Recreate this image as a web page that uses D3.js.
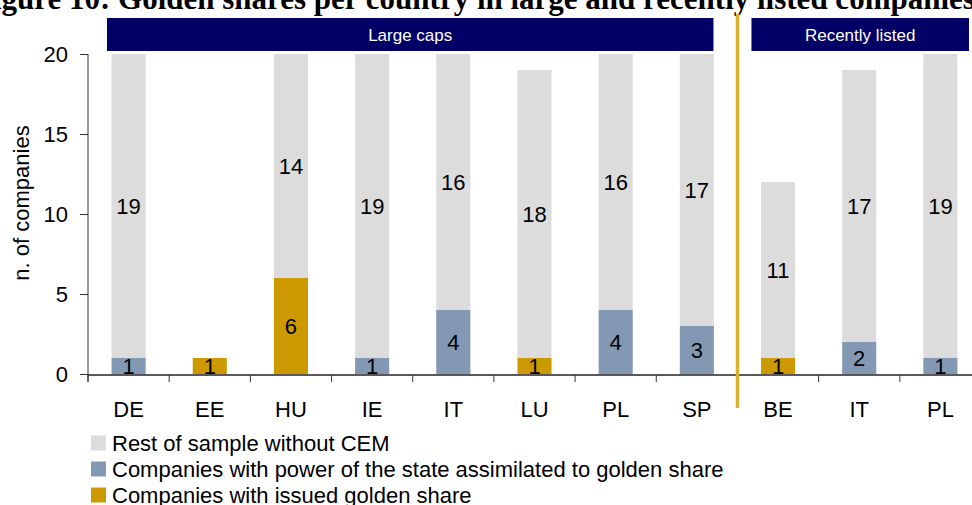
<!DOCTYPE html>
<html>
<head>
<meta charset="utf-8">
<script src="https://cdn.jsdelivr.net/npm/d3@7"></script>
<style>
  body { margin: 0; background: #fff; }
  svg { display: block; font-family: "Liberation Sans", Arial, sans-serif; }
</style>
</head>
<body>
<div id="chart"></div>
<script>
// data
const countries = ["DE", "EE", "HU", "IE", "IT", "LU", "PL", "SP", "BE", "IT", "PL"];
const groupOf = ["Large caps", "Large caps", "Large caps", "Large caps", "Large caps", "Large caps", "Large caps", "Large caps",
                 "Recently listed", "Recently listed", "Recently listed"];
const golden = [0, 1, 6, 0, 0, 1, 0, 0, 1, 0, 0];
const statePower = [1, 0, 0, 1, 4, 0, 4, 3, 0, 2, 1];
const rest = [19, 0, 14, 19, 16, 18, 16, 17, 11, 17, 19];
const yTicks = [0, 5, 10, 15, 20];
const seriesNames = ["Companies with issued golden share",
                     "Companies with power of the state assimilated to golden share",
                     "Rest of sample without CEM"];
const groups = ["Large caps", "Recently listed"];
const titleText = "Figure 10: Golden shares per country in large and recently listed companies";

const colors = ["#cc9900", "#8399b3", "#dcdcdc"];

var W = 972, H = 505;
var svg = d3.select("#chart").append("svg")
    .attr("width", W)
    .attr("height", H);

// cut-off title at the very top
svg.append("text")
    .attr("x", -26)
    .attr("y", 9)
    .style("font-family", "'Liberation Serif', 'Times New Roman', serif")
    .style("font-weight", "bold")
    .style("font-size", "31px")
    .text(titleText);

var x = d3.scaleBand()
    .domain(d3.range(countries.length))
    .range([88, 981])
    .paddingInner(0.58)
    .paddingOuter(0.29);

var y = d3.scaleLinear()
    .domain([0, 20])
    .range([374, 54]);

var step = x.step();
var gap = step * x.paddingInner();
function leftEdge(i) { return x(i) - gap / 2; }

// stacked data
var rows = countries.map(function (c, i) {
    return { i: i, golden: golden[i], state: statePower[i], rest: rest[i] };
});
var keys = ["golden", "state", "rest"];
var stacked = d3.stack().keys(keys)(rows);

var layer = svg.selectAll("g.layer")
    .data(stacked)
    .enter().append("g")
    .attr("class", "layer")
    .attr("fill", function (d, k) { return colors[k]; });

layer.selectAll("rect")
    .data(function (d) { return d; })
    .enter().append("rect")
    .attr("x", function (d) { return x(d.data.i); })
    .attr("width", x.bandwidth())
    .attr("y", function (d) { return y(d[1]); })
    .attr("height", function (d) { return y(d[0]) - y(d[1]); });

// value labels
stacked.forEach(function (s) {
    svg.append("g").selectAll("text")
        .data(s.filter(function (d) { return d[1] - d[0] > 0; }))
        .enter().append("text")
        .attr("x", function (d) { return x(d.data.i) + x.bandwidth() / 2; })
        .attr("y", function (d) { return (y(d[0]) + y(d[1])) / 2; })
        .attr("dy", "0.36em")
        .attr("text-anchor", "middle")
        .style("font-size", "22px")
        .attr("fill", "#000")
        .text(function (d) { return d[1] - d[0]; });
});

// y axis
var yAxis = svg.append("g")
    .attr("transform", "translate(88,0)")
    .call(d3.axisLeft(y).tickValues(yTicks).tickSize(8).tickPadding(12));
yAxis.select(".domain").remove();
yAxis.selectAll("line").attr("stroke", "#333");
yAxis.selectAll("text").style("font-size", "22px").style("font-family", "'Liberation Sans', Arial, sans-serif");
svg.append("line")
    .attr("x1", 88).attr("x2", 88)
    .attr("y1", y(20)).attr("y2", 382)
    .attr("stroke", "#333");

svg.append("text")
    .attr("transform", "translate(29," + 203 + ") rotate(-90)")
    .attr("text-anchor", "middle")
    .style("font-size", "22px")
    .text("n. of companies");

// x axis
var xAxis = svg.append("g")
    .attr("transform", "translate(0,375)")
    .call(d3.axisBottom(x).tickSize(0).tickPadding(26).tickFormat(function (i) { return countries[i]; }));
xAxis.select(".domain").remove();
xAxis.selectAll("text").style("font-size", "22px").style("font-family", "'Liberation Sans', Arial, sans-serif");

svg.append("line")
    .attr("x1", 88).attr("x2", W)
    .attr("y1", 375).attr("y2", 375)
    .attr("stroke", "#222")
    .attr("stroke-width", 1.5);

svg.append("g").selectAll("line")
    .data(d3.range(countries.length))
    .enter().append("line")
    .attr("x1", function (i) { return leftEdge(i); })
    .attr("x2", function (i) { return leftEdge(i); })
    .attr("y1", 375).attr("y2", 382)
    .attr("stroke", "#333");

// group banners
var bannerPad = { "Large caps": [19, 24], "Recently listed": [14, 12] };
groups.forEach(function (g) {
    var idx = d3.range(countries.length).filter(function (i) { return groupOf[i] == g; });
    var x0 = leftEdge(idx[0]) + bannerPad[g][0];
    var x1 = leftEdge(idx[idx.length - 1]) + step - bannerPad[g][1];
    svg.append("rect")
        .attr("x", x0).attr("y", 18)
        .attr("width", x1 - x0).attr("height", 33)
        .attr("fill", "#000066");
    svg.append("text")
        .attr("x", (x0 + x1) / 2)
        .attr("y", 35)
        .attr("dy", "0.35em")
        .attr("text-anchor", "middle")
        .attr("fill", "#fff")
        .style("font-family", "'Liberation Sans Narrow', 'Arial Narrow', sans-serif")
        .style("font-size", "17px")
        .text(g);
});

// divider between the two groups
var firstRecent = groupOf.indexOf("Recently listed");
var divX = leftEdge(firstRecent);
svg.append("line")
    .attr("x1", divX).attr("x2", divX)
    .attr("y1", 14).attr("y2", 408)
    .attr("stroke", "#d9b12e")
    .attr("stroke-width", 3.5);

// legend, top to bottom: rest, state, golden
var legend = svg.append("g").selectAll("g")
    .data([2, 1, 0])
    .enter().append("g")
    .attr("transform", function (k, j) { return "translate(91," + (443 + j * 26) + ")"; });
legend.append("rect")
    .attr("x", 0).attr("y", -7.5)
    .attr("width", 15).attr("height", 15)
    .attr("fill", function (k) { return colors[k]; });
legend.append("text")
    .attr("x", 21)
    .attr("dy", "0.35em")
    .style("font-size", "22px")
    .text(function (k) { return seriesNames[k]; });
</script>
</body>
</html>
